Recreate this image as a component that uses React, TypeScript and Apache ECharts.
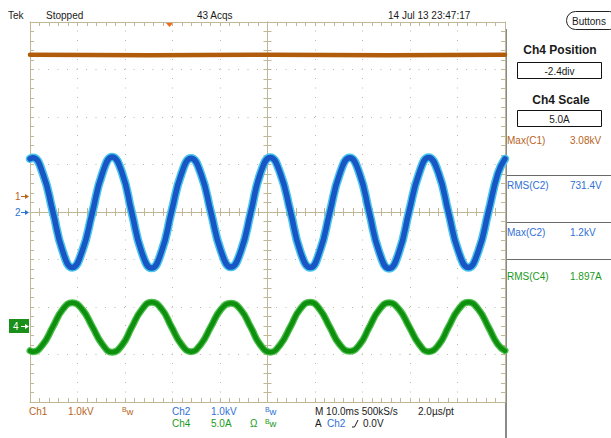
import { useEffect, useRef } from 'react';
import * as echarts from 'echarts';

// Time (ms from screen centre) of read-off samples, shared by Ch2 and Ch4
const sampleTimes = [
  -50, -49.4, -47.3, -45.2, -43.1, -41.1, -39.0, -36.9, -34.8,
  -32.7, -30.6, -28.6, -26.5, -24.4, -22.3, -20.2, -18.1,
  -16.1, -14.0, -11.9, -9.8, -7.7, -5.6, -3.5, -1.5,
  0.6, 2.7, 4.8, 6.9, 9.0, 11.0, 13.1, 15.2,
  17.3, 19.4, 21.4, 23.5, 25.6, 27.7, 29.8, 31.9,
  33.9, 36.0, 38.1, 40.2, 42.3, 44.4, 46.5, 48.5, 50,
];
// Ch2 (voltage) in divisions
const ch2Values = [
  1.12, 1.14, 0.81, 0.01, -0.83, -1.17, -0.82, -0.02, 0.80,
  1.16, 0.82, 0.0, -0.84, -1.18, -0.83, 0.01, 0.81,
  1.13, 0.80, -0.01, -0.82, -1.16, -0.82, 0.0, 0.81,
  1.15, 0.81, 0.02, -0.83, -1.17, -0.83, -0.01, 0.80,
  1.14, 0.80, 0.0, -0.84, -1.19, -0.84, 0.01, 0.81,
  1.15, 0.82, -0.01, -0.83, -1.17, -0.82, 0.0, 0.81, 1.12,
];
// Ch4 (current) in divisions
const ch4Values = [
  -2.92, -2.94, -2.79, -2.42, -2.05, -1.91, -2.05, -2.41, -2.78,
  -2.95, -2.80, -2.43, -2.06, -1.90, -2.04, -2.42, -2.79,
  -2.94, -2.78, -2.41, -2.05, -1.92, -2.06, -2.43, -2.80,
  -2.95, -2.79, -2.42, -2.04, -1.90, -2.05, -2.42, -2.79,
  -2.93, -2.79, -2.43, -2.06, -1.91, -2.05, -2.41, -2.78,
  -2.94, -2.80, -2.42, -2.05, -1.90, -2.05, -2.42, -2.79, -2.92,
];
// Ch1 (DC) in divisions
const ch1Times = [-50, -25, 0, 25, 50];
const ch1Values = [3.31, 3.30, 3.31, 3.30, 3.31];

const topTexts = ['Tek', 'Stopped', '43 Acqs', '14 Jul 13 23:47:17'];
const measLabels = ['Max(C1)', 'RMS(C2)', 'Max(C2)', 'RMS(C4)'];
const measValues = ['3.08kV', '731.4V', '1.2kV', '1.897A'];

const FONT = '"Liberation Sans", Arial, sans-serif';
const C1 = '#b8641c';
const C2 = '#2f6fd6';
const C4 = '#1a9a1a';
const INK = '#1a1a1a';
const GRID = '#bfb796';
const DOT = '#bcb8a6';

const T = (text: string, x: number, y: number, fill: string, extra: any = {}) => ({
  type: 'text', x, y, silent: true,
  style: { text, fill, fontSize: 10, fontFamily: FONT, verticalAlign: 'middle', ...extra },
});
const Bw = (x: number, y: number, fill: string) => [
  T('B', x, y - 2, fill, { fontSize: 7 }),
  T('w', x + 4.5, y + 0.5, fill, { fontSize: 9.5 }),
];

export default function App() {
  const ref = useRef<HTMLDivElement>(null);
  useEffect(() => {
    document.body.style.margin = '0';
    const chart = echarts.init(ref.current!, null, { renderer: 'svg' });
    const pair = (ts: number[], vs: number[]) => ts.map((t, i) => [t, vs[i]]);
    const lineC = { color: GRID, width: 1 };
    const xBase = (position: string, onZero: boolean, split: boolean) => ({
      type: 'value', min: -50, max: 50, interval: 10, position,
      axisLabel: { show: false },
      axisLine: onZero
        ? { show: true, onZero: true, onZeroAxisIndex: 0, lineStyle: lineC }
        : { show: true, onZero: false, lineStyle: lineC },
      axisTick: { show: true, inside: true, length: 4, lineStyle: lineC },
      minorTick: { show: true, splitNumber: 5, length: 4, lineStyle: lineC },
      splitLine: { show: split, lineStyle: { color: DOT, width: 1, type: [1, 8.5], dashOffset: 0.5 } },
    });
    const yBase = (position: string, onZero: boolean, split: boolean) => ({
      type: 'value', min: -4, max: 4, interval: 1, position,
      axisLabel: { show: false },
      axisLine: onZero
        ? { show: true, onZero: true, onZeroAxisIndex: 0, lineStyle: lineC }
        : { show: true, onZero: false, lineStyle: lineC },
      axisTick: { show: true, inside: true, length: 4, lineStyle: lineC },
      minorTick: { show: true, splitNumber: 5, length: 4, lineStyle: lineC },
      splitLine: { show: split, lineStyle: { color: DOT, width: 1, type: [1, 8.5], dashOffset: 0.5 } },
    });
    const trace = (data: any[], color: string, width: number, z: number, smooth = true) => ({
      type: 'line', data, xAxisIndex: 0, yAxisIndex: 0, smooth, showSymbol: false, symbol: 'none',
      silent: true, z, lineStyle: { color, width, cap: 'round', join: 'round' },
      emphasis: { disabled: true },
    });

    const graphic: any[] = [
      T(topTexts[0], 8, 15, INK),
      T(topTexts[1], 46, 15, INK),
      T(topTexts[2], 197, 15, INK),
      T(topTexts[3], 388, 15, INK),
      { type: 'polygon', silent: true, shape: { points: [[165, 22], [174, 22], [169.5, 27]] }, style: { fill: '#f06a1a' } },
      { type: 'rect', silent: true, shape: { x: 505, y: 29, width: 2, height: 409 }, style: { fill: '#8a8a8a' } },
      { type: 'rect', silent: true, shape: { x: 566.5, y: 11.5, width: 52, height: 18, r: 9 }, style: { fill: '#fff', stroke: '#222', lineWidth: 1 } },
      T('Buttons', 572, 21, INK),
      T('Ch4 Position', 560, 50, INK, { fontSize: 12, fontWeight: 'bold', align: 'center' }),
      { type: 'rect', silent: true, shape: { x: 517.5, y: 62.5, width: 84, height: 16 }, style: { fill: '#fff', stroke: '#111', lineWidth: 1 } },
      T('-2.4div', 559.5, 71, INK, { align: 'center' }),
      T('Ch4 Scale', 561, 100, INK, { fontSize: 12, fontWeight: 'bold', align: 'center' }),
      { type: 'rect', silent: true, shape: { x: 517.5, y: 110.5, width: 84, height: 16 }, style: { fill: '#fff', stroke: '#111', lineWidth: 1 } },
      T('5.0A', 559.5, 119, INK, { align: 'center' }),
      { type: 'line', silent: true, shape: { x1: 507, y1: 175.5, x2: 611, y2: 175.5 }, style: { stroke: '#6a6a6a', lineWidth: 1 } },
      { type: 'line', silent: true, shape: { x1: 507, y1: 222.5, x2: 611, y2: 222.5 }, style: { stroke: '#6a6a6a', lineWidth: 1 } },
      { type: 'line', silent: true, shape: { x1: 507, y1: 259.5, x2: 611, y2: 259.5 }, style: { stroke: '#6a6a6a', lineWidth: 1 } },
      T(measLabels[0], 507, 140, C1), T(measValues[0], 570, 140, C1),
      T(measLabels[1], 507, 185, C2), T(measValues[1], 570, 185, C2),
      T(measLabels[2], 507, 232, C2), T(measValues[2], 570, 232, C2),
      T(measLabels[3], 507, 276, C4), T(measValues[3], 570, 276, C4),
      // left channel markers
      T('1', 15, 196, C1),
      { type: 'line', silent: true, shape: { x1: 21, y1: 196.5, x2: 26, y2: 196.5 }, style: { stroke: C1, lineWidth: 1 } },
      { type: 'polygon', silent: true, shape: { points: [[25, 194], [29, 196.5], [25, 199]] }, style: { fill: C1 } },
      T('2', 15, 212, C2),
      { type: 'line', silent: true, shape: { x1: 21, y1: 212.5, x2: 26, y2: 212.5 }, style: { stroke: C2, lineWidth: 1 } },
      { type: 'polygon', silent: true, shape: { points: [[25, 210], [29, 212.5], [25, 215]] }, style: { fill: C2 } },
      { type: 'rect', silent: true, shape: { x: 9, y: 319, width: 20, height: 14 }, style: { fill: '#1a8f1a' } },
      T('4', 13, 326, '#fff'),
      { type: 'line', silent: true, shape: { x1: 21, y1: 326.5, x2: 26, y2: 326.5 }, style: { stroke: '#fff', lineWidth: 1 } },
      { type: 'polygon', silent: true, shape: { points: [[25, 324], [29, 326.5], [25, 329]] }, style: { fill: '#fff' } },
      // bottom status
      T('Ch1', 29, 411, C1), T('1.0kV', 68, 411, C1), ...Bw(122, 411, C1),
      T('Ch2', 172, 411, C2), T('1.0kV', 211, 411, C2), ...Bw(265, 411, C2),
      T('M 10.0ms 500kS/s', 315, 411, INK), T('2.0µs/pt', 418, 411, INK),
      T('Ch4', 172, 423, C4), T('5.0A', 211, 423, C4), T('Ω', 250, 423, C4), ...Bw(265, 423, C4),
      T('A', 315, 423, INK), T('Ch2', 327, 423, C2),
      { type: 'polyline', silent: true, shape: { points: [[352, 427], [354.5, 427], [358, 420]] }, style: { stroke: INK, lineWidth: 1, fill: 'none' } },
      T('0.0V', 363, 423, INK),
    ];

    chart.setOption({
      animation: false,
      backgroundColor: '#fff',
      grid: { left: 30, top: 22, width: 475, height: 380, containLabel: false },
      xAxis: [xBase('bottom', false, true), xBase('top', false, false), xBase('bottom', true, false), xBase('top', true, false)],
      yAxis: [yBase('left', false, true), yBase('right', false, false), yBase('left', true, false), yBase('right', true, false)],
      series: [
        trace(pair(sampleTimes, ch2Values), '#48c4ea', 8.5, 2),
        trace(pair(sampleTimes, ch2Values), '#1756c4', 5.5, 3),
        trace(pair(sampleTimes, ch4Values), '#4cbf4c', 7, 4),
        trace(pair(sampleTimes, ch4Values), '#0e8f0e', 4.5, 5),
        trace(pair(ch1Times, ch1Values), '#b05c0a', 4.5, 6, false),
      ],
      graphic,
    });
    return () => chart.dispose();
  }, []);
  return <div ref={ref} style={{ width: 611, height: 438, position: 'absolute', left: 0, top: 0, background: '#fff' }} />;
}
